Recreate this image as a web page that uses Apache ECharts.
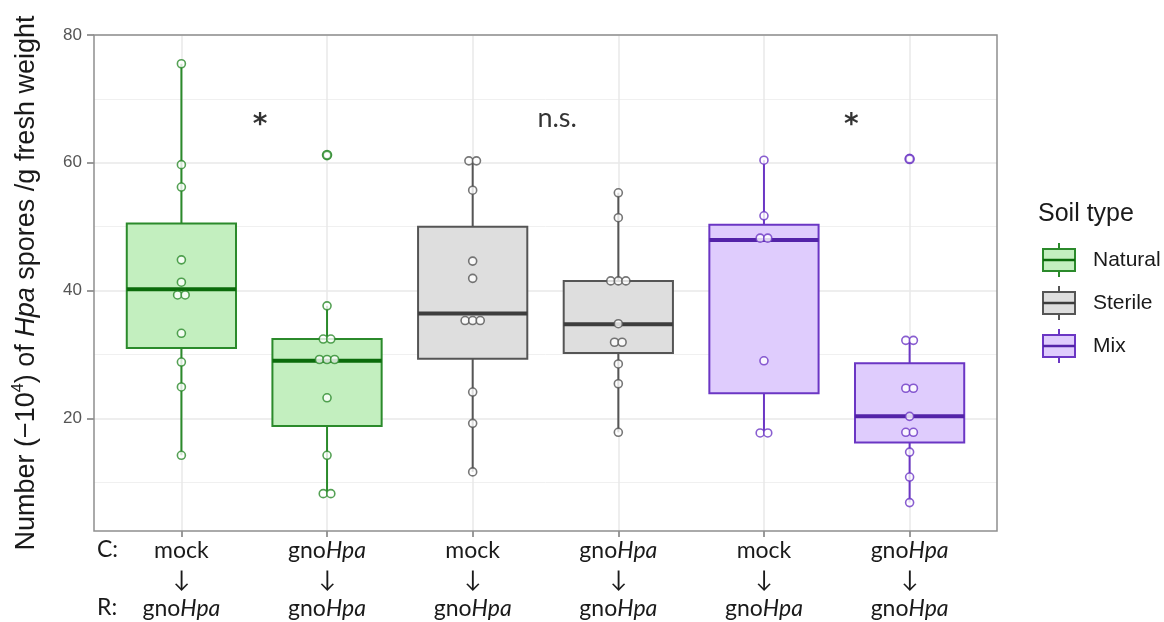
<!DOCTYPE html>
<html>
<head>
<meta charset="utf-8">
<script src="https://cdn.jsdelivr.net/npm/echarts@6/dist/echarts.min.js"></script>
<style>
  html, body { margin: 0; padding: 0; background: #ffffff; }
  #chart { width: 1164px; height: 622px; }
</style>
</head>
<body>
<div id="chart"></div>
<script>
// Treatments: conditioning (C) and response (R) for each box, left to right
const conditioning = ['mock', 'gnoHpa', 'mock', 'gnoHpa', 'mock', 'gnoHpa'];
const response = ['gnoHpa', 'gnoHpa', 'gnoHpa', 'gnoHpa', 'gnoHpa', 'gnoHpa'];
const soilTypes = ['Natural', 'Sterile', 'Mix'];
const boxSoil = [0, 0, 1, 1, 2, 2];

// Box summaries (x10^4 spores per g fresh weight)
const boxMin    = [14.2,  8.2, 11.6, 17.8, 17.7,  6.8];
const boxQ1     = [31.0, 18.8, 29.3, 30.2, 23.9, 16.2];
const boxMedian = [40.2, 29.0, 36.4, 34.7, 47.9, 20.3];
const boxQ3     = [50.5, 32.4, 50.0, 41.5, 50.3, 28.6];
const boxMax    = [75.5, 37.6, 60.3, 55.3, 60.4, 32.2];

// Individual samples per box
const naturalMock = [75.5, 59.7, 56.2, 44.8, 41.3, 39.3, 39.3, 33.3, 28.8, 24.9, 14.2];
const naturalGno  = [61.2, 37.6, 32.4, 32.4, 29.2, 29.2, 29.2, 23.2, 14.2, 8.2, 8.2];
const sterileMock = [60.3, 60.3, 55.7, 44.6, 41.9, 35.3, 35.3, 35.3, 24.1, 19.2, 11.6];
const sterileGno  = [55.3, 51.4, 41.5, 41.5, 41.5, 34.8, 31.9, 31.9, 28.5, 25.4, 17.8];
const mixMock     = [60.4, 51.7, 48.2, 48.2, 29.0, 17.7, 17.7];
const mixGno      = [60.6, 32.2, 32.2, 24.7, 24.7, 20.3, 17.8, 17.8, 14.7, 10.8, 6.8];
const samples = [naturalMock, naturalGno, sterileMock, sterileGno, mixMock, mixGno];

// Values beyond the whiskers
const outliers = [[], [61.2], [], [], [], [60.6]];

// Axis ticks
const yTicks = [20, 40, 60, 80];
const yMinorTicks = [10, 30, 50, 70];
const xPositions = [1, 2, 3, 4, 5, 6];

// Significance marks between paired boxes
const annotationX = [1.54, 3.58, 5.6];
const annotationY = [67, 67, 67];
const annotationText = ['*', 'n.s.', '*'];

// Styling
const fills   = ['#c3efbf', '#dedede', '#dfccfd'];
const borders = ['#2b8a2b', '#555555', '#6b36c4'];
const medians = ['#0b6b0b', '#3d3d3d', '#5323a8'];
const boxWidth = 0.75;
const dotStep = 0.052;
const labelFont = 'Lato, "Open Sans", sans-serif';
const axisFont = '"Liberation Sans", Arial, sans-serif';

function spread(values, x) {
  const counts = {};
  values.forEach(v => { counts[v] = (counts[v] || 0) + 1; });
  const seen = {};
  return values.map(v => {
    const k = seen[v] = (seen[v] === undefined ? 0 : seen[v] + 1);
    return [x + (k - (counts[v] - 1) / 2) * dotStep, v];
  });
}

function boxRenderer(soil) {
  return function (params, api) {
    const x = api.value(0);
    const lo = api.coord([x, api.value(1)]);
    const q1 = api.coord([x, api.value(2)]);
    const md = api.coord([x, api.value(3)]);
    const q3 = api.coord([x, api.value(4)]);
    const hi = api.coord([x, api.value(5)]);
    const half = api.size([boxWidth, 0])[0] / 2;
    const stroke = borders[soil];
    return {
      type: 'group',
      children: [
        { type: 'line', shape: { x1: hi[0], y1: hi[1], x2: q3[0], y2: q3[1] },
          style: { stroke: stroke, lineWidth: 2 } },
        { type: 'line', shape: { x1: q1[0], y1: q1[1], x2: lo[0], y2: lo[1] },
          style: { stroke: stroke, lineWidth: 2 } },
        { type: 'rect', shape: { x: q3[0] - half, y: q3[1], width: half * 2, height: q1[1] - q3[1] },
          style: { fill: fills[soil], stroke: stroke, lineWidth: 2 } },
        { type: 'line', shape: { x1: md[0] - half, y1: md[1], x2: md[0] + half, y2: md[1] },
          style: { stroke: medians[soil], lineWidth: 4 } }
      ]
    };
  };
}

function treatmentText(s) {
  return s.startsWith('gno') ? '{t|gno}{ti|' + s.slice(3) + '}' : '{t|' + s + '}';
}

const series = [];
soilTypes.forEach((name, soil) => {
  const idx = boxSoil.map((s, i) => s === soil ? i : -1).filter(i => i >= 0);
  series.push({
    name: name,
    type: 'custom',
    renderItem: boxRenderer(soil),
    encode: { x: 0, y: [1, 2, 3, 4, 5] },
    data: idx.map(i => [xPositions[i], boxMin[i], boxQ1[i], boxMedian[i], boxQ3[i], boxMax[i]]),
    z: 2
  });
  series.push({
    name: name + ' outliers',
    type: 'scatter',
    symbol: 'circle',
    symbolSize: 8,
    itemStyle: { color: '#ffffff', borderColor: borders[soil], borderWidth: 2.6 },
    data: [].concat(...idx.map(i => outliers[i].map(v => [xPositions[i], v]))),
    z: 3
  });
  series.push({
    name: name + ' samples',
    type: 'scatter',
    symbol: 'circle',
    symbolSize: 8,
    itemStyle: { color: '#ffffff', borderColor: borders[soil], borderWidth: 1.6 },
    data: [].concat(...idx.map(i => spread(samples[i], xPositions[i]))),
    z: 4
  });
});

series.push({
  name: 'significance',
  type: 'scatter',
  symbolSize: 1,
  itemStyle: { color: 'rgba(0,0,0,0)' },
  data: annotationX.map((x, i) => ({
    value: [x, annotationY[i]],
    name: annotationText[i],
    label: annotationText[i] === '*'
      ? { fontFamily: '"DejaVu Sans", sans-serif', fontWeight: 'bold', fontSize: 28, offset: [0, 8], color: '#000000' }
      : { fontFamily: labelFont, fontSize: 27, color: '#000000' }
  })),
  label: { show: true, position: 'inside', formatter: '{b}', color: '#000000', textBorderWidth: 0 },
  emphasis: { disabled: true },
  z: 5
});

// Legend keys drawn as small box glyphs
const legendX = 1043, legendTop = 260, legendStep = 43;
const legendGraphics = [{
  type: 'text', left: 1038, top: 202,
  style: { text: 'Soil type', fontFamily: axisFont, fontSize: 25, fill: '#1a1a1a' }
}];
soilTypes.forEach((name, i) => {
  const cy = legendTop + i * legendStep;
  const cx = legendX + 16;
  legendGraphics.push(
    { type: 'line', shape: { x1: cx, y1: cy - 17, x2: cx, y2: cy + 17 },
      style: { stroke: borders[i], lineWidth: 2 } },
    { type: 'rect', shape: { x: legendX, y: cy - 11, width: 32, height: 22 },
      style: { fill: fills[i], stroke: borders[i], lineWidth: 2 } },
    { type: 'line', shape: { x1: legendX, y1: cy, x2: legendX + 32, y2: cy },
      style: { stroke: medians[i], lineWidth: 2.5 } },
    { type: 'text', x: 1093, y: cy,
      style: { text: name, fontFamily: axisFont, fontSize: 21, fill: '#1a1a1a', verticalAlign: 'middle' } }
  );
});
legendGraphics.push(
  { type: 'text', x: 97, y: 550,
    style: { text: 'C:', fontFamily: labelFont, fontSize: 23, fill: '#1a1a1a', verticalAlign: 'middle' } },
  { type: 'text', x: 97, y: 608,
    style: { text: 'R:', fontFamily: labelFont, fontSize: 23, fill: '#1a1a1a', verticalAlign: 'middle' } }
);

const chart = echarts.init(document.getElementById('chart'), null, { renderer: 'canvas' });
chart.setOption({
  animation: false,
  backgroundColor: '#ffffff',
  grid: {
    left: 94, right: 167, top: 35, bottom: 91,
    show: true, z: 10, backgroundColor: 'transparent',
    borderColor: '#8f8f8f', borderWidth: 1.5
  },
  xAxis: {
    type: 'value', min: 0.4, max: 6.6,
    axisLine: { show: false },
    axisTick: { customValues: xPositions, length: 6, lineStyle: { color: '#7a7a7a', width: 1.5 } },
    axisLabel: {
      customValues: xPositions, margin: 5,
      formatter: v => {
        const i = Math.round(v) - 1;
        return treatmentText(conditioning[i]) + '\n{a|↓}\n' + treatmentText(response[i]);
      },
      rich: {
        t: { fontFamily: labelFont, fontSize: 23, color: '#1a1a1a', lineHeight: 29 },
        ti: { fontFamily: labelFont, fontSize: 23, fontStyle: 'italic', color: '#1a1a1a', lineHeight: 29 },
        a: { fontFamily: labelFont, fontSize: 23, color: '#1a1a1a', lineHeight: 29 }
      }
    },
    splitLine: { show: true, lineStyle: { color: '#e8e8e8', width: 1.5 } }
  },
  yAxis: [{
    type: 'value', min: 2.35, max: 80,
    axisLine: { show: false },
    axisTick: { customValues: yTicks, length: 7, lineStyle: { color: '#7a7a7a', width: 1.5 } },
    axisLabel: { customValues: yTicks, margin: 12, fontFamily: axisFont, fontSize: 17, color: '#555555' },
    splitLine: { show: true, lineStyle: { color: '#e8e8e8', width: 1.5 } },
    name: 'Number (−10{sup|4}) of {i|Hpa} spores /g fresh weight',
    nameLocation: 'middle', nameRotate: 90, nameGap: 52,
    nameTextStyle: {
      fontFamily: axisFont, fontSize: 27, color: '#1a1a1a', lineHeight: 31,
      rich: {
        i: { fontFamily: axisFont, fontSize: 27, fontStyle: 'italic', color: '#1a1a1a', lineHeight: 31 },
        sup: { fontFamily: axisFont, fontSize: 16, color: '#1a1a1a', lineHeight: 16, verticalAlign: 'top' }
      }
    }
  }, {
    type: 'value', min: 2.35, max: 80,
    axisLine: { show: false },
    axisTick: { show: false, customValues: yMinorTicks },
    axisLabel: { show: false, customValues: yMinorTicks },
    splitLine: { show: true, lineStyle: { color: '#f0f0f0', width: 1 } }
  }],
  graphic: legendGraphics,
  series: series
});
</script>
</body>
</html>
